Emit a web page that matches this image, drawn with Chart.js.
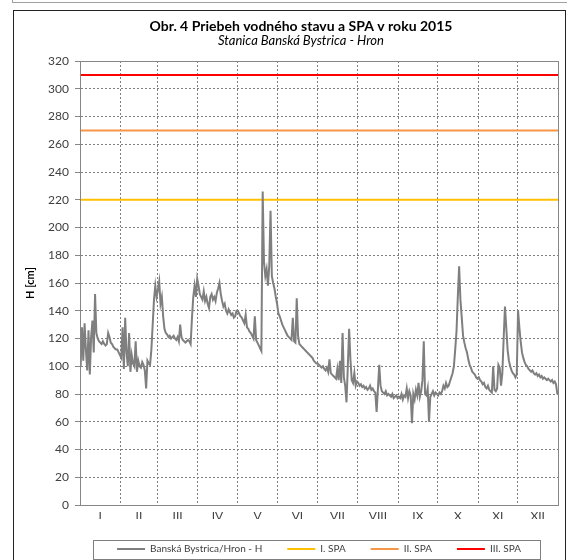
<!DOCTYPE html>
<html>
<head>
<meta charset="utf-8">
<script src="https://cdn.jsdelivr.net/npm/chart.js@4/dist/chart.umd.min.js"></script>
<style>
  body { margin: 0; background: #fff; width: 567px; height: 560px; overflow: hidden; position: relative; }
  #topbox { position: absolute; left: 12px; top: -20px; width: 560px; height: 21px; border: 1px solid #a0a0a0; }
  #frame { position: absolute; left: 13px; top: 10px; width: 551px; height: 560px; border: 1px solid #222; }
  #chart { position: absolute; left: 0; top: 0; }
</style>
</head>
<body>
<div id="topbox"></div>
<div id="frame"></div>
<canvas id="chart" width="567" height="560"></canvas>
<script>
// daily water level H [cm], Banská Bystrica / Hron, 2015
const jan = [100, 128, 104, 131, 112, 97, 126, 94, 121, 133, 110, 152, 124, 120, 118, 117, 116, 118, 116, 115,
  116, 124, 121, 117, 116, 114, 113, 112, 112, 110, 108];
const feb = [106, 128, 98, 135, 110, 100, 124, 96, 108, 102, 100, 118, 96, 104, 100, 99, 103, 101, 97, 84,
  104, 102, 101, 112, 130, 148, 158, 150];
const mar = [155, 161, 145, 150, 136, 127, 124, 123, 121, 122, 120, 121, 122, 120, 119, 121, 118, 130, 121, 119,
  118, 117, 118, 119, 118, 116, 135, 150, 158, 150, 163];
const apr = [158, 152, 150, 148, 154, 147, 150, 145, 142, 150, 152, 148, 150, 147, 153, 156, 160, 152, 147, 143,
  145, 140, 138, 141, 139, 137, 138, 135, 136, 140];
const may = [140, 138, 136, 135, 133, 131, 137, 128, 127, 125, 124, 122, 120, 136, 119, 117, 115, 113, 111, 226,
  175, 165, 170, 158, 172, 212, 165, 160, 156, 150, 145];
const jun = [138, 136, 133, 130, 128, 126, 124, 122, 121, 120, 119, 135, 118, 117, 149, 122, 116, 115, 114, 113,
  112, 111, 110, 109, 108, 107, 106, 104, 103, 102];
const jul = [102, 101, 100, 99, 100, 98, 97, 99, 96, 105, 95, 94, 93, 92, 91, 98, 90, 104, 88, 124,
  92, 86, 74, 100, 127, 105, 90, 88, 95, 86, 89];
const aug = [88, 86, 87, 85, 86, 84, 85, 83, 84, 86, 83, 84, 82, 81, 67, 84, 101, 86, 82, 81,
  80, 82, 79, 80, 79, 78, 80, 77, 78, 79, 77];
const sep = [78, 77, 80, 76, 79, 78, 84, 77, 82, 79, 59, 80, 76, 83, 79, 88, 78, 82, 90, 118,
  80, 79, 84, 60, 78, 80, 82, 79, 81, 80];
const oct = [79, 81, 80, 82, 86, 84, 88, 85, 86, 89, 92, 95, 100, 112, 125, 150, 172, 148, 135, 122,
  117, 113, 110, 105, 101, 99, 96, 95, 94, 92, 91];
const nov = [92, 90, 89, 87, 88, 85, 84, 86, 83, 82, 81, 100, 83, 82, 84, 101, 99, 86, 95, 120,
  143, 128, 112, 104, 100, 97, 95, 94, 92, 94];
const dec = [140, 128, 118, 110, 106, 103, 101, 100, 98, 97, 96, 97, 95, 94, 95, 93, 94, 92, 93, 91,
  92, 91, 90, 91, 90, 89, 90, 88, 89, 87, 80];

const levelH = [].concat(jan, feb, mar, apr, may, jun, jul, aug, sep, oct, nov, dec);

const monthLabels = ['I', 'II', 'III', 'IV', 'V', 'VI', 'VII', 'VIII', 'IX', 'X', 'XI', 'XII'];
const monthStarts = [0, 31, 59, 90, 120, 151, 181, 212, 243, 273, 304, 334, 365];

const spaNames = ['I. SPA', 'II. SPA', 'III. SPA'];
const spaLevels = [220, 270, 310];
const spaColors = ['#ffc000', '#f79646', '#ff0000'];

// boundary ticks (grid lines) interleaved with mid-month ticks (labels)
const xTicks = [];
monthStarts.forEach((s, i) => {
  xTicks.push(s);
  if (i < 12) xTicks.push((s + monthStarts[i + 1]) / 2);
});

const FONT = 'Lato, "Open Sans", sans-serif';

const datasets = [{
  label: 'Banská Bystrica/Hron - H',
  data: levelH.map((v, i) => ({ x: i + 0.5, y: v })),
  borderColor: '#7f7f7f',
  borderWidth: 2,
  pointRadius: 0,
  tension: 0
}];
spaLevels.forEach((lvl, i) => {
  datasets.push({
    label: spaNames[i],
    data: [{ x: 0, y: lvl }, { x: 365, y: lvl }],
    borderColor: spaColors[i],
    borderWidth: 2,
    pointRadius: 0
  });
});

const plotFrame = {
  id: 'plotFrame',
  afterDraw(chart) {
    const { ctx, chartArea: a } = chart;
    ctx.save();
    ctx.strokeStyle = '#868686';
    ctx.lineWidth = 1;
    ctx.strokeRect(Math.round(a.left) + 0.5, Math.round(a.top) + 0.5,
      Math.round(a.right - a.left), Math.round(a.bottom - a.top));
    // legend frame
    const hb = chart.legend.legendHitBoxes;
    if (hb && hb.length) {
      const l = Math.min(...hb.map(b => b.left)) - 24;
      const r = Math.max(...hb.map(b => b.left + b.width)) + 19;
      const cy = hb[0].top + hb[0].height / 2;
      ctx.strokeStyle = '#7f7f7f';
      ctx.strokeRect(Math.round(l) + 0.5, Math.round(cy - 9) + 0.5, Math.round(r - l), 19);
    }
    ctx.restore();
  }
};

new Chart(document.getElementById('chart'), {
  type: 'line',
  data: { datasets },
  options: {
    responsive: false,
    animation: false,
    layout: { padding: { left: 44, right: 9, top: 10, bottom: -4 } },
    plugins: {
      title: {
        display: true,
        text: 'Obr. 4 Priebeh vodného stavu a SPA v roku 2015',
        color: '#000',
        font: { family: FONT, size: 14, weight: 'bold', lineHeight: 1 },
        padding: { top: 9, bottom: 0 }
      },
      subtitle: {
        display: true,
        text: 'Stanica Banská Bystrica - Hron',
        color: '#000',
        font: { family: FONT, size: 13, style: 'italic', lineHeight: 1 },
        padding: { top: 1.5, bottom: 13.5 }
      },
      legend: {
        position: 'bottom',
        fullSize: false,
        labels: {
          boxWidth: 28,
          boxHeight: 2,
          padding: 25,
          color: '#404040',
          font: { family: FONT, size: 10 },
          generateLabels: chart => chart.data.datasets.map((ds, i) => ({
            text: ds.label,
            fillStyle: ds.borderColor,
            strokeStyle: ds.borderColor,
            lineWidth: 0,
            hidden: false,
            datasetIndex: i,
            fontColor: '#404040'
          }))
        }
      },
      tooltip: { enabled: false }
    },
    scales: {
      x: {
        type: 'linear',
        min: 0,
        max: 365,
        afterBuildTicks: scale => { scale.ticks = xTicks.map(v => ({ value: v })); },
        afterFit: scale => { scale.height = 14; },
        ticks: {
          autoSkip: false,
          maxRotation: 0,
          padding: 4,
          color: '#404040',
          font: { family: FONT, size: 12 },
          callback: (v, i) => (i % 2 === 1 ? monthLabels[(i - 1) / 2] : '')
        },
        grid: {
          drawTicks: false,
          color: ctx => (ctx.index % 2 === 0 ? '#7f7f7f' : 'rgba(0,0,0,0)')
        },
        border: { color: '#868686', dash: [2, 2] }
      },
      y: {
        min: 0,
        max: 320,
        afterFit: scale => { scale.width = 36; },
        ticks: {
          stepSize: 20,
          padding: 6,
          color: '#404040',
          font: { family: FONT, size: 12 }
        },
        grid: { color: '#7f7f7f', tickLength: 5, tickColor: '#868686' },
        border: { color: '#868686', dash: [2, 2] },
        title: {
          display: true,
          text: 'H [cm]',
          color: '#000',
          font: { family: FONT, size: 11, weight: 'bold' },
          padding: { top: -20, bottom: 0 }
        }
      }
    }
  },
  plugins: [plotFrame]
});
</script>
</body>
</html>
